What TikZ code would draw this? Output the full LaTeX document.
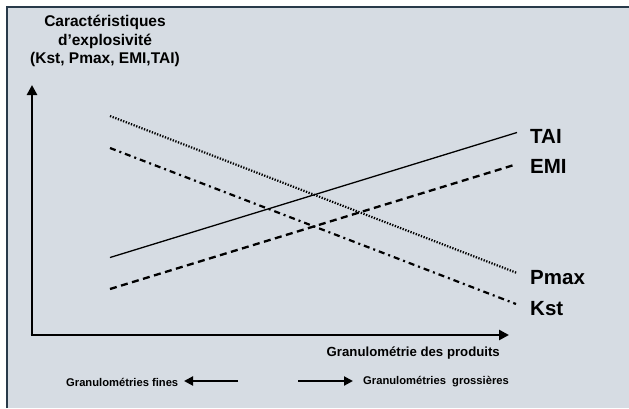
\documentclass[tikz,border=0pt]{standalone}
\usepackage{fontspec}
\setmainfont{Liberation Sans}
\usetikzlibrary{arrows.meta}
\definecolor{bgc}{RGB}{214,220,227}
\definecolor{framec}{RGB}{40,58,74}
\begin{document}
\begin{tikzpicture}[x=1pt,y=-1pt,
  axis/.style={line width=2.6pt,-{Triangle[length=10pt,width=10pt]}},
  small/.style={line width=2pt,-{Triangle[length=9pt,width=9pt]}},
  curvelbl/.style={font=\fontsize{20.5}{22}\selectfont\bfseries,anchor=west,inner sep=0pt},
  ttl/.style={font=\fontsize{15.5}{18.5}\selectfont\bfseries,align=center,inner sep=0pt},
  lbl/.style={font=\fontsize{11.2}{13}\selectfont\bfseries,inner sep=0pt}]
\useasboundingbox (0,0) rectangle (629,408);
\fill[white] (0,0) rectangle (629,408);
\fill[bgc] (7,7) rectangle (629,408);
\draw[framec,line width=2pt] (7,408) -- (7,7) -- (629,7);
% title
\node[ttl] (title) at (105,41) {Caractéristiques\\d’explosivité\\(Kst, Pmax, EMI,TAI)};
% axes
\coordinate (O) at (32,335);
\coordinate (ytip) at (32,85);
\coordinate (xtip) at (509,335);
\draw[axis] ([yshift=1.3pt]O) -- (ytip);
\draw[axis] ([xshift=-1.3pt]O) -- (xtip);
\node[lbl,font=\fontsize{13.2}{15}\selectfont\bfseries,anchor=east] (xlab) at (500,353) {Granulométrie des produits};
% curves
\coordinate (tai0) at (110,257.5);
\coordinate (tai1) at (517,132.5);
\coordinate (emi0) at (110,289);
\coordinate (emi1) at (514,165);
\coordinate (pm0) at (110,116);
\coordinate (pm1) at (517,273);
\coordinate (ks0) at (110,148);
\coordinate (ks1) at (516,304);
\draw[line width=1.3pt] (tai0) -- (tai1);
\draw[line width=2.3pt,dash pattern=on 7pt off 4.5pt] (emi0) -- (emi1);
\draw[line width=2.2pt,dash pattern=on 1.3pt off 1.5pt] (pm0) -- (pm1);
\draw[line width=2.2pt,dash pattern=on 6pt off 4pt on 2pt off 4pt] (ks0) -- (ks1);
\node[curvelbl] (ltai) at (530,136) {TAI};
\node[curvelbl] (lemi) at (530,166) {EMI};
\node[curvelbl] (lpm) at (530,278) {Pmax};
\node[curvelbl] (lks) at (530,309) {Kst};
% bottom
\node[lbl,anchor=west] (fines) at (66,382) {Granulométries fines};
\node[lbl,anchor=west] (gros) at (363,382) {Granulométries\ \ grossières};
\coordinate (la0) at (238,381);
\coordinate (la1) at (184,381);
\coordinate (ra0) at (298,381);
\coordinate (ra1) at (353,381);
\draw[small] (la0) -- (la1);
\draw[small] (ra0) -- (ra1);
\end{tikzpicture}
\end{document}
